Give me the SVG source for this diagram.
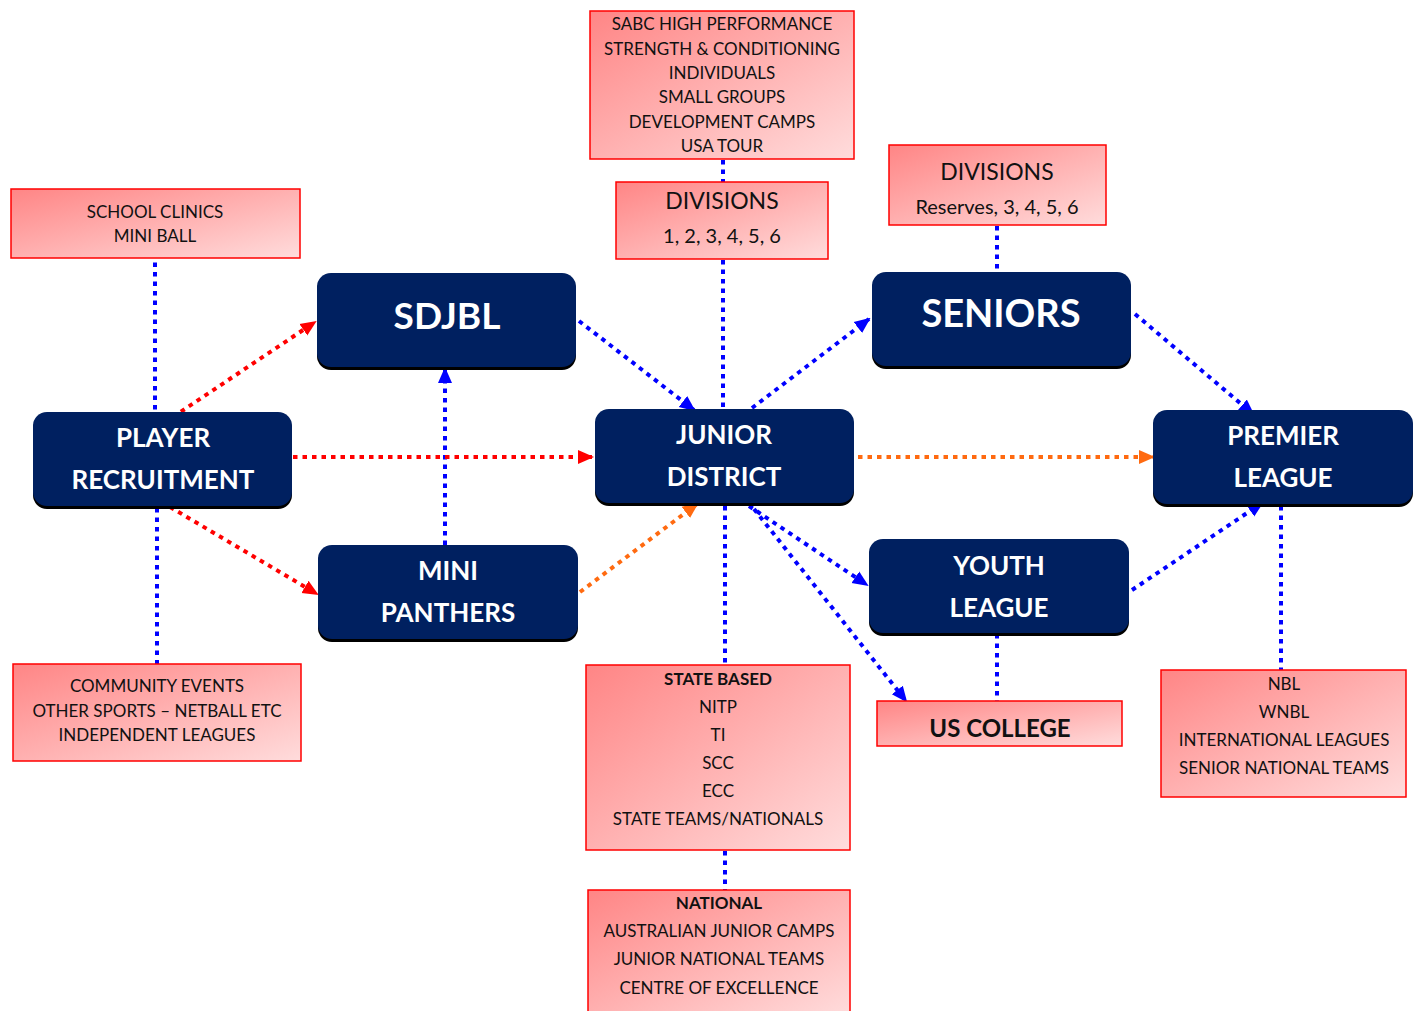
<svg xmlns="http://www.w3.org/2000/svg" width="1416" height="1011" viewBox="0 0 1416 1011">
<defs>
<linearGradient id="pink" x1="0" y1="0" x2="1" y2="1">
<stop offset="0" stop-color="#FF8585"/>
<stop offset="1" stop-color="#FFDCDC"/>
</linearGradient>
<marker id="ab" markerUnits="userSpaceOnUse" markerWidth="16" markerHeight="16" viewBox="0 0 16 16" refX="14" refY="8" orient="auto"><path d="M0,1 L16,8 L0,15 Z" fill="#0000FF"/></marker>
<marker id="ar" markerUnits="userSpaceOnUse" markerWidth="16" markerHeight="16" viewBox="0 0 16 16" refX="14" refY="8" orient="auto"><path d="M0,1 L16,8 L0,15 Z" fill="#FF0000"/></marker>
<marker id="ao" markerUnits="userSpaceOnUse" markerWidth="16" markerHeight="16" viewBox="0 0 16 16" refX="14" refY="8" orient="auto"><path d="M0,1 L16,8 L0,15 Z" fill="#FF6A10"/></marker>
</defs>
<style>
.box{fill:url(#pink);stroke:#FF0000;stroke-width:1.5}
.node{fill:#002060}
.shadow{fill:#000000}
.t{font-family:Lato,"Open Sans","Liberation Sans",sans-serif;fill:#111111;text-anchor:middle}
.s{font-size:17px}
.b{font-weight:bold}
.w{font-family:Lato,"Open Sans","Liberation Sans",sans-serif;fill:#FFFFFF;font-weight:bold;text-anchor:middle}
.c{fill:none;stroke-width:4;stroke-dasharray:4.5 5}
.blue{stroke:#0000FF}
.red{stroke:#FF0000}
.orange{stroke:#FF6A10}
</style>
<g id="connectors">
<line class="c blue" x1="155" y1="253" x2="155" y2="412"/>
<line class="c blue" x1="157" y1="508" x2="157" y2="664"/>
<line class="c blue" x1="445" y1="545" x2="445" y2="369" marker-end="url(#ab)"/>
<line class="c blue" x1="579" y1="321" x2="694" y2="410" marker-end="url(#ab)"/>
<line class="c blue" x1="723" y1="160" x2="723" y2="182"/>
<line class="c blue" x1="723" y1="260" x2="723" y2="409"/>
<line class="c blue" x1="752" y1="408" x2="869" y2="319" marker-end="url(#ab)"/>
<line class="c blue" x1="997" y1="226" x2="997" y2="272"/>
<line class="c blue" x1="1135" y1="314" x2="1253" y2="414" marker-end="url(#ab)"/>
<line class="c blue" x1="725" y1="506" x2="725" y2="665"/>
<line class="c blue" x1="725" y1="851" x2="725" y2="890"/>
<line class="c blue" x1="749" y1="506" x2="867" y2="585" marker-end="url(#ab)"/>
<line class="c blue" x1="754" y1="509" x2="906" y2="701" marker-end="url(#ab)"/>
<line class="c blue" x1="997" y1="634" x2="997" y2="701"/>
<line class="c blue" x1="1132" y1="590" x2="1262" y2="503" marker-end="url(#ab)"/>
<line class="c blue" x1="1281" y1="506" x2="1281" y2="670"/>
<line class="c red" x1="173" y1="417" x2="315" y2="322" marker-end="url(#ar)"/>
<line class="c red" x1="293" y1="457" x2="592" y2="457" marker-end="url(#ar)"/>
<line class="c red" x1="170" y1="507" x2="317" y2="594" marker-end="url(#ar)"/>
<line class="c orange" x1="580" y1="592" x2="697" y2="504" marker-end="url(#ao)"/>
<line class="c orange" x1="858" y1="457" x2="1153" y2="457" marker-end="url(#ao)"/>
</g>
<g id="sabc">
<rect class="box" x="590" y="11" width="264" height="148"/>
<text class="t s" x="722" y="30">SABC HIGH PERFORMANCE</text>
<text class="t s" x="722" y="55">STRENGTH &amp; CONDITIONING</text>
<text class="t s" x="722" y="79">INDIVIDUALS</text>
<text class="t s" x="722" y="103">SMALL GROUPS</text>
<text class="t s" x="722" y="128">DEVELOPMENT CAMPS</text>
<text class="t s" x="722" y="152">USA TOUR</text>
</g>
<g id="divisions-junior">
<rect class="box" x="616" y="182" width="212" height="77"/>
<text class="t" x="722" y="209" font-size="23">DIVISIONS</text>
<text class="t" x="722" y="243" font-size="20">1, 2, 3, 4, 5, 6</text>
</g>
<g id="divisions-seniors">
<rect class="box" x="889" y="145" width="217" height="80"/>
<text class="t" x="997" y="180" font-size="23">DIVISIONS</text>
<text class="t" x="997" y="214" font-size="20">Reserves, 3, 4, 5, 6</text>
</g>
<g id="school-clinics">
<rect class="box" x="11" y="189" width="289" height="69"/>
<text class="t s" x="155" y="218">SCHOOL CLINICS</text>
<text class="t s" x="155" y="242">MINI BALL</text>
</g>
<g id="community">
<rect class="box" x="13" y="664" width="288" height="97"/>
<text class="t s" x="157" y="692">COMMUNITY EVENTS</text>
<text class="t s" x="157" y="717">OTHER SPORTS – NETBALL ETC</text>
<text class="t s" x="157" y="741">INDEPENDENT LEAGUES</text>
</g>
<g id="state-based">
<rect class="box" x="586" y="665" width="264" height="185"/>
<text class="t s b" x="718" y="685">STATE BASED</text>
<text class="t s" x="718" y="713">NITP</text>
<text class="t s" x="718" y="741">TI</text>
<text class="t s" x="718" y="769">SCC</text>
<text class="t s" x="718" y="797">ECC</text>
<text class="t s" x="718" y="825">STATE TEAMS/NATIONALS</text>
</g>
<g id="national">
<rect class="box" x="588" y="890" width="262" height="125"/>
<text class="t s b" x="719" y="909">NATIONAL</text>
<text class="t s" x="719" y="937">AUSTRALIAN JUNIOR CAMPS</text>
<text class="t s" x="719" y="965">JUNIOR NATIONAL TEAMS</text>
<text class="t s" x="719" y="994">CENTRE OF EXCELLENCE</text>
</g>
<g id="us-college">
<rect class="box" x="877" y="701" width="245" height="45"/>
<text class="t b" x="1000" y="737" font-size="24">US COLLEGE</text>
</g>
<g id="nbl">
<rect class="box" x="1161" y="670" width="245" height="127"/>
<text class="t s" x="1284" y="690">NBL</text>
<text class="t s" x="1284" y="718">WNBL</text>
<text class="t s" x="1284" y="746">INTERNATIONAL LEAGUES</text>
<text class="t s" x="1284" y="774">SENIOR NATIONAL TEAMS</text>
</g>
<g id="sdjbl">
<rect class="shadow" x="317" y="276" width="259" height="94" rx="14"/>
<rect class="node" x="317" y="273" width="259" height="94" rx="14"/>
<text class="w" x="447" y="329" font-size="37">SDJBL</text>
</g>
<g id="player-recruitment">
<rect class="shadow" x="33" y="415" width="259" height="94" rx="14"/>
<rect class="node" x="33" y="412" width="259" height="94" rx="14"/>
<text class="w" x="163" y="447" font-size="26">PLAYER</text>
<text class="w" x="163" y="489" font-size="26">RECRUITMENT</text>
</g>
<g id="junior-district">
<rect class="shadow" x="595" y="412" width="259" height="94" rx="14"/>
<rect class="node" x="595" y="409" width="259" height="94" rx="14"/>
<text class="w" x="724" y="444" font-size="26">JUNIOR</text>
<text class="w" x="724" y="486" font-size="26">DISTRICT</text>
</g>
<g id="seniors">
<rect class="shadow" x="872" y="275" width="259" height="94" rx="14"/>
<rect class="node" x="872" y="272" width="259" height="94" rx="14"/>
<text class="w" x="1001" y="327" font-size="38">SENIORS</text>
</g>
<g id="premier-league">
<rect class="shadow" x="1153" y="413" width="260" height="94" rx="14"/>
<rect class="node" x="1153" y="410" width="260" height="94" rx="14"/>
<text class="w" x="1283" y="445" font-size="26">PREMIER</text>
<text class="w" x="1283" y="487" font-size="26">LEAGUE</text>
</g>
<g id="mini-panthers">
<rect class="shadow" x="318" y="548" width="260" height="94" rx="14"/>
<rect class="node" x="318" y="545" width="260" height="94" rx="14"/>
<text class="w" x="448" y="580" font-size="26">MINI</text>
<text class="w" x="448" y="622" font-size="26">PANTHERS</text>
</g>
<g id="youth-league">
<rect class="shadow" x="869" y="542" width="260" height="94" rx="14"/>
<rect class="node" x="869" y="539" width="260" height="94" rx="14"/>
<text class="w" x="999" y="575" font-size="26">YOUTH</text>
<text class="w" x="999" y="617" font-size="26">LEAGUE</text>
</g>
</svg>
